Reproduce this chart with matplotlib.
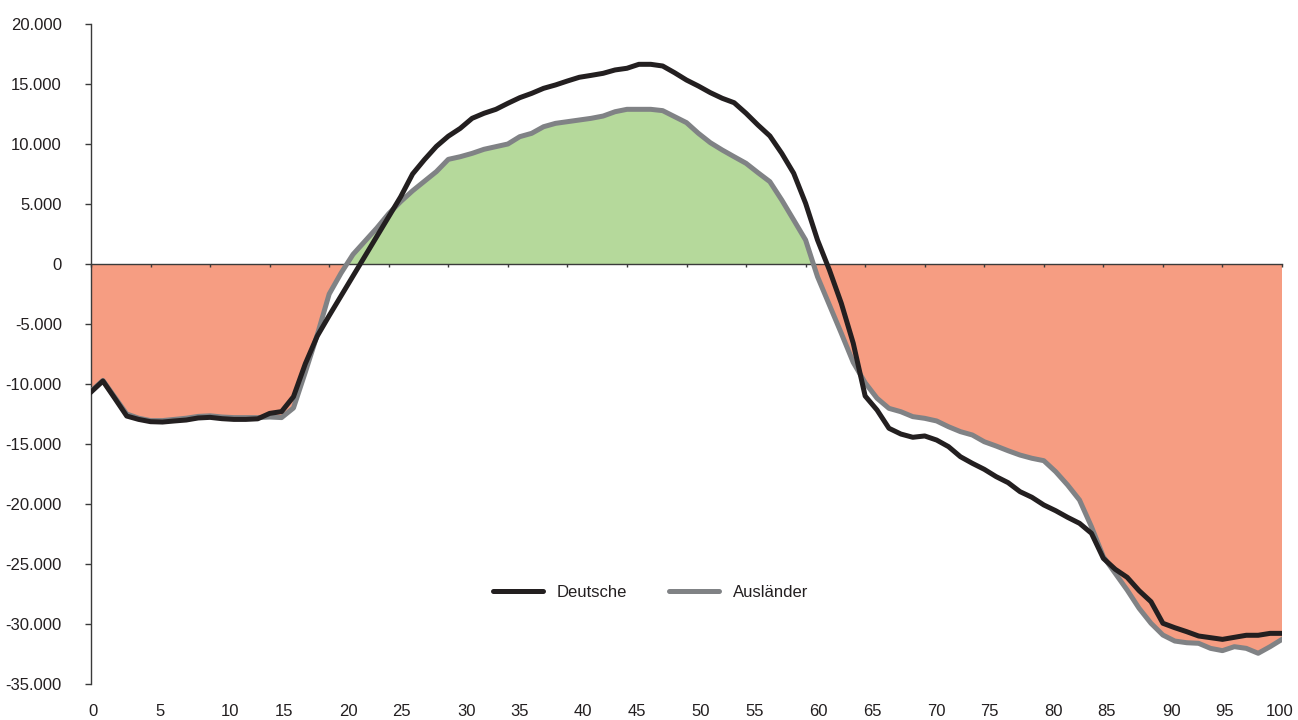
import matplotlib
matplotlib.use('Agg')
import matplotlib.pyplot as plt
from matplotlib.ticker import FuncFormatter
import numpy as np

plt.rcParams['font.family'] = ['Liberation Sans', 'DejaVu Sans']

# Alter 0..100
ages = np.arange(0, 101)

deutsche = [
    -10670, -9750, -11200, -12670, -12950, -13140, -13170, -13080, -13000, -12830,
    -12780, -12890, -12950, -12950, -12900, -12450, -12300, -11060, -8300, -6000,
    -4300, -2650, -1000, 650, 2300, 3950, 5600, 7500, 8700, 9800,
    10650, 11300, 12140, 12560, 12890, 13390, 13860, 14220, 14640, 14920,
    15250, 15560, 15720, 15890, 16170, 16310, 16640, 16640, 16500, 15940,
    15330, 14830, 14280, 13810, 13440, 12560, 11580, 10670, 9220, 7560,
    5060, 2000, -500, -3280, -6600, -11000, -12170, -13690, -14170, -14440,
    -14330, -14670, -15220, -16060, -16610, -17110, -17720, -18220, -18970, -19440,
    -20080, -20560, -21110, -21610, -22440, -24530, -25440, -26110, -27220, -28140,
    -29940, -30310, -30640, -31000, -31140, -31280, -31110, -30940, -30940, -30780,
    -30780,
]

auslaender = [
    -10600, -9700, -11100, -12500, -12850, -13050, -13050, -12950, -12850, -12700,
    -12650, -12750, -12800, -12800, -12800, -12750, -12800, -12000, -9000, -5900,
    -2500, -750, 800, 1900, 3000, 4200, 5200, 6100, 6900, 7700,
    8720, 8940, 9220, 9560, 9780, 10000, 10610, 10890, 11440, 11720,
    11860, 12000, 12140, 12330, 12690, 12890, 12890, 12890, 12780, 12280,
    11780, 10890, 10110, 9500, 8940, 8390, 7610, 6860, 5330, 3670,
    2000, -1060, -3420, -5780, -8200, -9900, -11190, -12030, -12310, -12720,
    -12860, -13080, -13560, -13970, -14250, -14810, -15170, -15560, -15920, -16190,
    -16390, -17310, -18420, -19670, -21890, -24390, -25780, -27170, -28690, -29940,
    -30920, -31420, -31560, -31610, -32030, -32220, -31890, -32030, -32440, -31890,
    -31280,
]

x_labels = [str(a) for a in range(0, 101, 5)]
# where the age labels sit under the axis (they are not quite under the ticks)
x_label_pos = [0.2, 5.8, 11.7, 16.2, 21.6, 26.1, 31.5, 36.0, 41.3, 45.8, 51.2,
               55.7, 61.1, 65.6, 71.0, 75.4, 80.8, 85.3, 90.7, 95.2, 99.8]

black = '#231f20'
grey = '#808285'
salmon = '#f69d82'
green = '#b5d99b'
axis_col = '#3a3a3a'


def thousands(v, pos):
    s = '{:,.0f}'.format(v).replace(',', '.')
    return s


fig = plt.figure(figsize=(12.98, 7.2), dpi=100)
ax = fig.add_axes([91 / 1298, 1 - 684 / 720, 1191 / 1298, 660 / 720])

a = np.array(auslaender)
ax.fill_between(ages, a, 0, where=a >= 0, interpolate=True, color=green, lw=0, zorder=1)
ax.fill_between(ages, a, 0, where=a <= 0, interpolate=True, color=salmon, lw=0, zorder=1)

ax.plot(ages, auslaender, color=grey, lw=3.6, zorder=3, label='Ausländer')
ax.plot(ages, deutsche, color=black, lw=3.6, zorder=4, label='Deutsche')

ax.set_xlim(0, 100)
ax.set_ylim(-35000, 20000)

ax.spines['top'].set_visible(False)
ax.spines['right'].set_visible(False)
ax.spines['bottom'].set_position(('data', 0))
for sp in ['left', 'bottom']:
    ax.spines[sp].set_color(axis_col)
    ax.spines[sp].set_linewidth(1.0)
    ax.spines[sp].set_zorder(2.5)

ax.set_yticks(np.arange(-35000, 20001, 5000))
ax.yaxis.set_major_formatter(FuncFormatter(thousands))
ax.tick_params(axis='y', direction='out', length=4, width=1, color=axis_col,
               pad=17, labelsize=12, labelcolor=black)

ax.set_xticks(np.arange(0, 101, 5))
ax.set_xticklabels([])
ax.tick_params(axis='x', direction='out', length=2.5, width=1, color=axis_col)

for lab, pos in zip(x_labels, x_label_pos):
    ax.text(pos, -0.042, lab, transform=ax.get_xaxis_transform(),
            ha='center', va='center', fontsize=12, color=black)

handles, labels = ax.get_legend_handles_labels()
leg = ax.legend(handles[::-1], labels[::-1], loc='center', bbox_to_anchor=(0.47, 0.139),
                ncol=2, frameon=False, fontsize=12, handlelength=3.0,
                handletextpad=0.85, columnspacing=2.5)
for line in leg.get_lines():
    line.set_solid_capstyle('round')
for t in leg.get_texts():
    t.set_color(black)

fig.savefig('out.png', dpi=100)
